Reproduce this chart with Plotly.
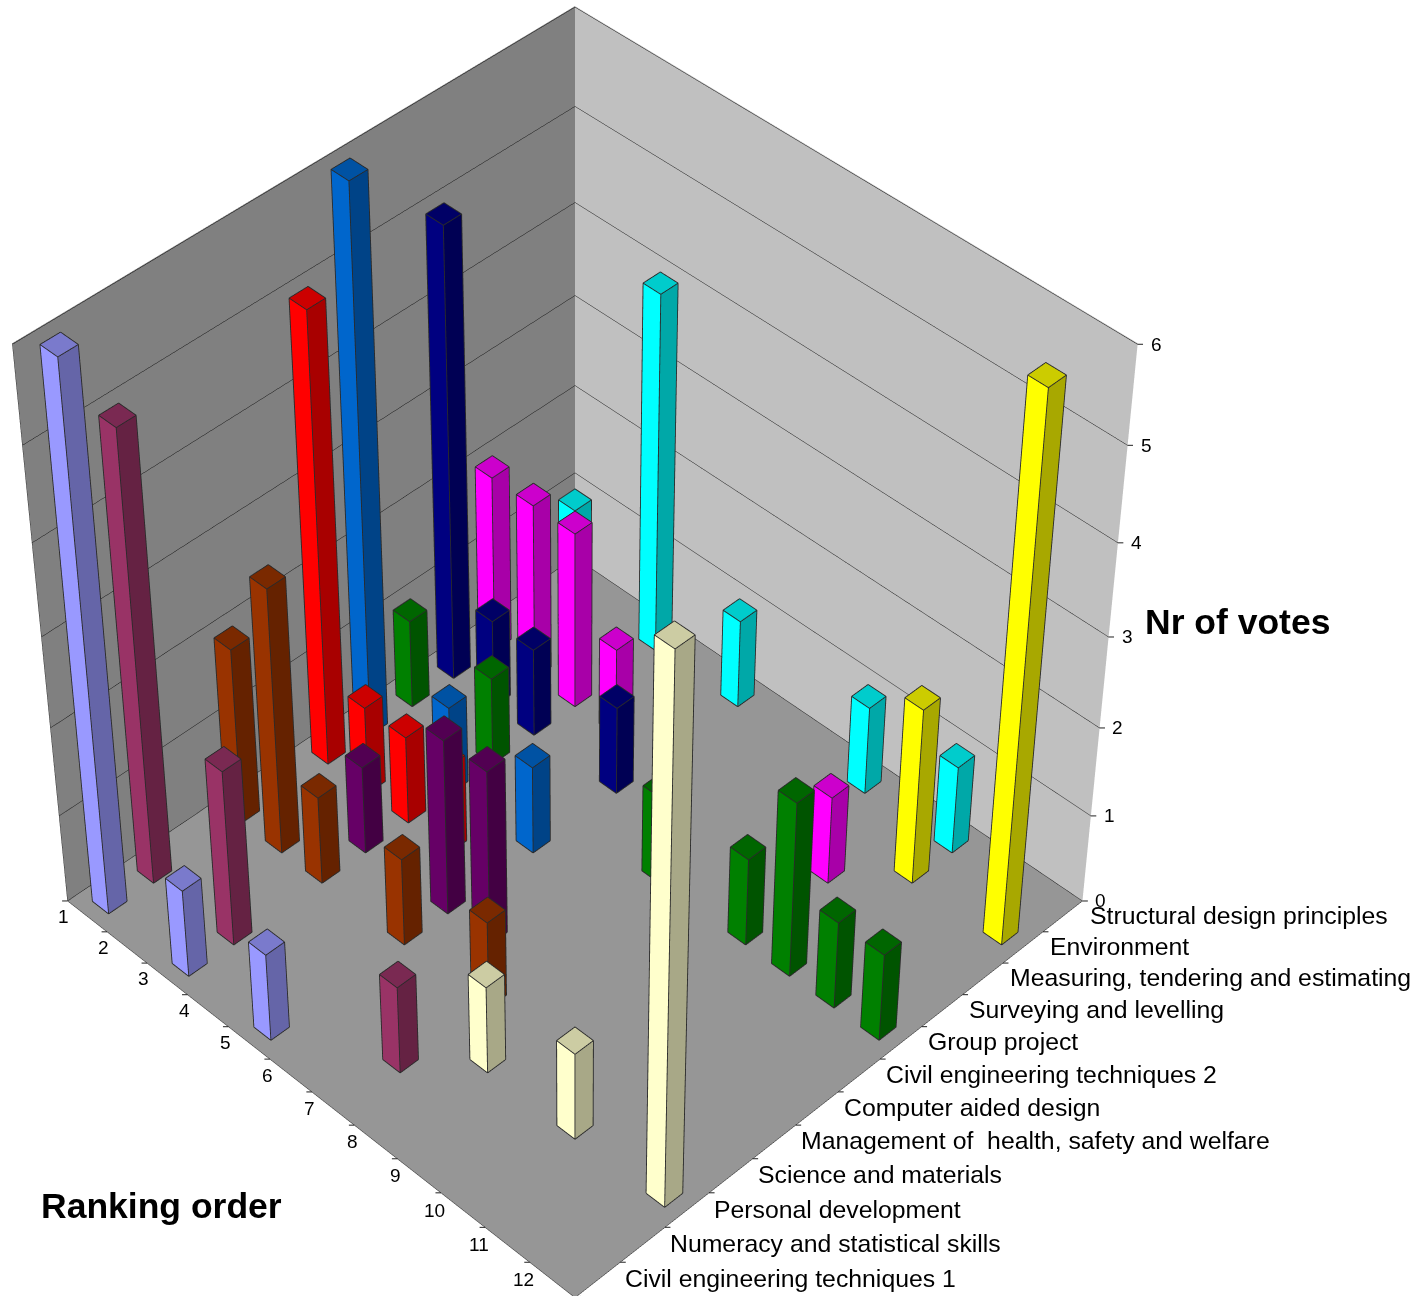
import math
import plotly.graph_objects as go

ranks = list(range(1, 13))
vote_ticks = [0, 1, 2, 3, 4, 5, 6]

# Modules from the front corner to the back; votes per ranking position 1..12
modules = [
    "Civil engineering techniques 1",
    "Numeracy and statistical skills",
    "Personal development",
    "Science and materials",
    "Management of  health, safety and welfare",
    "Computer aided design",
    "Civil engineering techniques 2",
    "Group project",
    "Surveying and levelling",
    "Measuring, tendering and estimating",
    "Environment",
    "Structural design principles",
]
civil_1 = [6, 0, 1, 0, 1, 0, 0, 0, 0, 0, 0, 0]
numeracy = [5, 0, 2, 0, 0, 0, 1, 0, 0, 0, 0, 0]
personal = [0, 0, 0, 0, 0, 0, 0, 1, 0, 1, 0, 6]
science = [2, 3, 1, 0, 1, 0, 1, 0, 0, 0, 0, 0]
management = [0, 0, 1, 0, 2, 2, 0, 0, 0, 0, 0, 0]
cad = [5, 1, 1, 1, 0, 0, 0, 0, 0, 0, 0, 0]
civil_2 = [6, 0, 1, 0, 1, 0, 0, 0, 0, 0, 0, 0]
group_project = [1, 0, 1, 0, 0, 0, 1, 0, 1, 2, 1, 1]
surveying = [5, 1, 1, 0, 1, 0, 0, 0, 0, 0, 0, 0]
measuring = [2, 2, 2, 1, 0, 0, 0, 0, 1, 0, 0, 0]
environment = [0, 0, 0, 0, 0, 0, 0, 0, 0, 2, 0, 6]
structural = [1, 0, 4, 0, 1, 0, 0, 1, 0, 1, 0, 0]

votes = [civil_1, numeracy, personal, science, management, cad,
         civil_2, group_project, surveying, measuring, environment, structural]
colors = ["#9999FF", "#993366", "#FFFFCC", "#993300", "#660066", "#FF0000",
          "#0066CC", "#008000", "#000080", "#FF00FF", "#FFFF00", "#00FFFF"]

BAR_WIDTH = 0.41
TOP_SHADE = 0.8
SIDE_SHADE = 0.66
FOV = 0.2518
EDGE_LIFT = 0.012
EDGE_LIFT_Z = 0.005
CAMERA_DROP = -0.021


def shade(hex_color, factor):
    r, g, b = (int(hex_color[p:p + 2], 16) for p in (1, 3, 5))
    return f"rgb({round(r * factor)},{round(g * factor)},{round(b * factor)})"


fig = go.Figure()

for row, (series, color) in enumerate(zip(votes, colors)):
    xs, ys, zs, i, j, k, faces = [], [], [], [], [], [], []
    ex, ey, ez = [], [], []
    for rank, value in zip(ranks, series):
        if not value:
            continue
        h = BAR_WIDTH / 2
        x0, x1, y0, y1 = rank - h, rank + h, row + 0.5 - h, row + 0.5 + h
        n = len(xs)
        xs += [x0, x1, x1, x0, x0, x1, x1, x0]
        ys += [y0, y0, y1, y1, y0, y0, y1, y1]
        zs += [0, 0, 0, 0, value, value, value, value]
        # -y face, +x face, top face: the only three the camera can see
        quads = [((0, 1, 5, 4), color),
                 ((1, 2, 6, 5), shade(color, SIDE_SHADE)),
                 ((4, 5, 6, 7), shade(color, TOP_SHADE))]
        for (a, b, c, d), face in quads:
            i += [n + a, n + a]
            j += [n + b, n + c]
            k += [n + c, n + d]
            faces += [face, face]
        # Outlines sit a hair towards the camera so the faces cannot swallow them
        for a, b in [(0, 1), (1, 2), (0, 4), (1, 5), (2, 6), (4, 5), (5, 6), (6, 7), (7, 4)]:
            ex += [xs[n + a] + EDGE_LIFT, xs[n + b] + EDGE_LIFT, None]
            ey += [ys[n + a] - EDGE_LIFT, ys[n + b] - EDGE_LIFT, None]
            ez += [zs[n + a] + EDGE_LIFT_Z, zs[n + b] + EDGE_LIFT_Z, None]
    fig.add_trace(go.Mesh3d(
        x=xs, y=ys, z=zs, i=i, j=j, k=k, facecolor=faces, flatshading=True,
        name=modules[row], hoverinfo="skip",
        lighting=dict(ambient=1, diffuse=0, specular=0, fresnel=0),
    ))
    fig.add_trace(go.Scatter3d(
        x=ex, y=ey, z=ez, mode="lines", hoverinfo="skip", showlegend=False,
        line=dict(color="#2a2a2a", width=1.8),
    ))

X_RANGE = [0.5, 12.5]
Y_RANGE = [0, 12]
Z_RANGE = [0, 6.01]  # headroom keeps the tallest bar tops off the clip plane

X_EDGE = 12.499
Y_EDGE_FRONT = 0.001
Y_EDGE_BACK = 11.999

label_font = dict(family="Liberation Sans", size=24.8, color="black")
tick_font = dict(family="Liberation Sans", size=19, color="black")

annotations = []
for row, name in enumerate(modules):
    annotations.append(dict(
        x=X_EDGE, y=row + 0.5, z=0, text=name, showarrow=False,
        xanchor="left", yanchor="middle", xshift=25, yshift=1, font=label_font,
    ))
for rank in ranks:
    annotations.append(dict(
        x=rank, y=Y_EDGE_FRONT, z=0, text=str(rank), showarrow=False,
        xanchor="right", yanchor="middle", xshift=-16, yshift=0, font=tick_font,
    ))
for tick in vote_ticks:
    annotations.append(dict(
        x=X_EDGE, y=Y_EDGE_BACK, z=tick, text=str(tick), showarrow=False,
        xanchor="left", yanchor="middle", xshift=11, font=tick_font,
    ))


def tick_mark(x, y, z, reach):
    """Short horizontal dash leaving an axis edge, `reach` pixels long."""
    return dict(x=x, y=y, z=z, text="", showarrow=True, arrowhead=0, arrowwidth=1,
                arrowcolor="#202020", ax=reach, ay=0, standoff=0, startstandoff=0)


annotations += [tick_mark(X_EDGE, Y_EDGE_BACK, t, 7) for t in vote_ticks]
annotations += [tick_mark(r + 0.5, Y_EDGE_FRONT, 0, -7) for r in [0] + ranks[:-1]]
annotations += [tick_mark(X_EDGE, v + Y_EDGE_FRONT, 0, 7) for v in range(0, 12)]


def wall_axis(bg, axis_range, grid):
    return dict(
        range=axis_range, autorange=False, showbackground=True, backgroundcolor=bg,
        showgrid=grid, gridcolor="#101010", gridwidth=1, zeroline=False,
        showline=True, linecolor="#303030", linewidth=1,
        showticklabels=False, ticks="", showspikes=False, title=dict(text=""),
    )


z_axis = wall_axis("#969696", Z_RANGE, True)
z_axis["tickvals"] = vote_ticks

fig.update_layout(
    width=1416, height=1296, margin=dict(l=0, r=0, t=0, b=0),
    paper_bgcolor="white", showlegend=False,
    scene=dict(
        domain=dict(x=[0, 1150 / 1416], y=[0, 1]),
        xaxis=wall_axis("#808080", X_RANGE, False),
        yaxis=wall_axis("#C0C0C0", Y_RANGE, False),
        zaxis=z_axis,
        aspectmode="manual", aspectratio=dict(x=1, y=1, z=1.016),
        camera=dict(
            eye=dict(x=3.48, y=-3.48, z=4.69 + CAMERA_DROP),
            center=dict(x=0, y=0, z=CAMERA_DROP),
            up=dict(x=0, y=0, z=1),
        ),
        annotations=annotations,
    ),
    annotations=[
        dict(x=1237 / 1416, y=1 - 622 / 1296, xref="paper", yref="paper", text="<b>Nr of votes</b>",
             xanchor="center", yanchor="middle", showarrow=False,
             font=dict(family="Liberation Sans", size=35.5, color="black")),
        dict(x=161 / 1416, y=1 - 1206 / 1296, xref="paper", yref="paper", text="<b>Ranking order</b>",
             xanchor="center", yanchor="middle", showarrow=False,
             font=dict(family="Liberation Sans", size=35.5, color="black")),
    ],
)

# Narrow the scene's field of view for a long-lens look, then repaint
narrow_lens = """
var gd = document.getElementById('{plot_id}');
var glplot = gd._fullLayout.scene._scene.glplot;
glplot.fovy = %s;
glplot.redraw();
""" % FOV

fig.write_html("out.html", post_script=narrow_lens, config=dict(displayModeBar=False))
